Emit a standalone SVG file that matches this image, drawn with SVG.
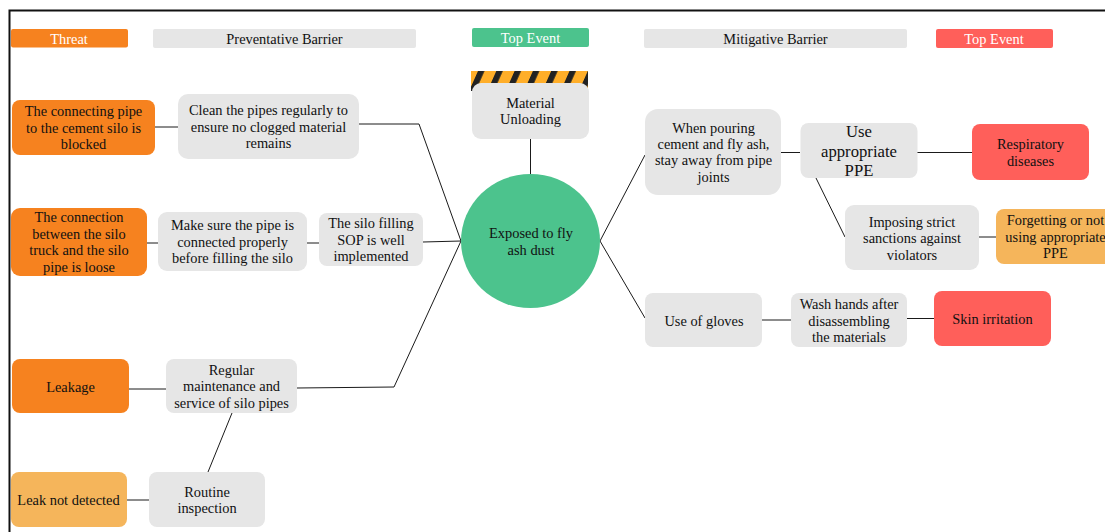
<svg xmlns="http://www.w3.org/2000/svg" width="1105" height="532" viewBox="0 0 1105 532">
<style>
text{font-family:"Liberation Serif","Times New Roman",serif;font-size:14.400px;text-anchor:middle;fill:#111}
.w{fill:#fff}
.big{font-size:16.700px}
.g{fill:#e6e6e6}.o{fill:#f6821f}.l{fill:#f5b55b}.e{fill:#4cc38d}.r{fill:#ff5f5a}
.c path{fill:none;stroke:#1a1a1a;stroke-width:1}
</style>
<defs>
<pattern id="hz" patternUnits="userSpaceOnUse" width="18.300" height="20" patternTransform="translate(478 71) skewX(-24)">
<rect width="18.300" height="20" fill="#ffae29"/><rect width="6.500" height="20" fill="#222"/>
</pattern>
</defs>
<rect width="1105" height="532" fill="#fff"/>
<path d="M9.500 533V10.500H1105" fill="none" stroke="#111" stroke-width="2"/>
<g class="c" id="connectors">
<path d="M155 127H178"/>
<path d="M359 124L419 124L461 241"/>
<path d="M147 243H158"/>
<path d="M307 243H319"/>
<path d="M423 242L461 241"/>
<path d="M297 388L394 387L461 241"/>
<path d="M129 389H166"/>
<path d="M232 413L208 472"/>
<path d="M127 500H149"/>
<path d="M530.500 139V174"/>
<path d="M600 241L645 155"/>
<path d="M600 241L645 318"/>
<path d="M781 152.500H800"/>
<path d="M917 152.500H972"/>
<path d="M815 176L845 237"/>
<path d="M977 237H996"/>
<path d="M762 320H791"/>
<path d="M907 318.500H934"/>
</g>
<g id="hdr-threat"><rect class="o" x="11" y="29" width="117" height="18.500" rx="2"/><text class="w" x="69" y="44">Threat</text></g>
<g id="hdr-prev"><rect class="g" x="153" y="29" width="263" height="19" rx="2"/><text x="284.500" y="44">Preventative Barrier</text></g>
<g id="hdr-top"><rect class="e" x="472" y="28" width="117" height="19" rx="2"/><text class="w" x="530.500" y="43">Top Event</text></g>
<g id="hdr-mit"><rect class="g" x="644" y="29" width="263" height="19" rx="2"/><text x="775.500" y="44">Mitigative Barrier</text></g>
<g id="hdr-cons"><rect class="r" x="936" y="29" width="117" height="19" rx="2"/><text class="w" x="994" y="44">Top Event</text></g>

<g id="threat1"><rect class="o" x="12" y="100" width="143" height="55" rx="8"/><text><tspan x="83.500" y="116">The connecting pipe</tspan><tspan x="83.500" y="133">to the cement silo is</tspan><tspan x="83.500" y="149">blocked</tspan></text></g>
<g id="barrier1"><rect class="g" x="178" y="94" width="181" height="65" rx="10"/><text><tspan x="268.500" y="115">Clean the pipes regularly to</tspan><tspan x="268.500" y="132">ensure no clogged material</tspan><tspan x="268.500" y="148">remains</tspan></text></g>
<g id="threat2"><rect class="o" x="11" y="208" width="136" height="68" rx="9"/><text><tspan x="79" y="222">The connection</tspan><tspan x="79" y="239">between the silo</tspan><tspan x="79" y="255">truck and the silo</tspan><tspan x="79" y="272">pipe is loose</tspan></text></g>
<g id="barrier2"><rect class="g" x="158" y="212" width="149" height="59" rx="9"/><text><tspan x="232.500" y="230">Make sure the pipe is</tspan><tspan x="232.500" y="247">connected properly</tspan><tspan x="232.500" y="263">before filling the silo</tspan></text></g>
<g id="barrier3"><rect class="g" x="319" y="213" width="104" height="53" rx="8"/><text><tspan x="371" y="228">The silo filling</tspan><tspan x="371" y="245">SOP is well</tspan><tspan x="371" y="261">implemented</tspan></text></g>
<g id="threat3"><rect class="o" x="12" y="359" width="117" height="54" rx="8"/><text x="70.500" y="392">Leakage</text></g>
<g id="barrier4"><rect class="g" x="166" y="359" width="131" height="54" rx="8"/><text><tspan x="231.500" y="375">Regular</tspan><tspan x="231.500" y="391">maintenance and</tspan><tspan x="231.500" y="408">service of silo pipes</tspan></text></g>
<g id="threat4"><rect class="l" x="11" y="472" width="116" height="55" rx="8"/><text x="68.500" y="505">Leak not detected</text></g>
<g id="barrier5"><rect class="g" x="149" y="472" width="116" height="55" rx="8"/><text><tspan x="207" y="497">Routine</tspan><tspan x="207" y="513">inspection</tspan></text></g>

<g id="hazard"><rect x="471" y="71" width="117" height="20" fill="url(#hz)"/></g>
<g id="hazard-node"><rect class="g" x="472" y="83" width="117" height="56" rx="9"/><text><tspan x="530.500" y="108">Material</tspan><tspan x="530.500" y="124">Unloading</tspan></text></g>
<g id="top-event"><ellipse class="e" cx="530.500" cy="241" rx="69.500" ry="67"/><text><tspan x="531" y="238">Exposed to fly</tspan><tspan x="531" y="255">ash dust</tspan></text></g>

<g id="mit1"><rect class="g" x="645" y="109" width="136" height="86" rx="13"/><text><tspan x="713.500" y="133">When pouring</tspan><tspan x="713.500" y="149">cement and fly ash,</tspan><tspan x="713.500" y="165">stay away from pipe</tspan><tspan x="713.500" y="182">joints</tspan></text></g>
<g id="mit2"><rect class="g" x="800.500" y="123" width="117" height="55" rx="8"/><text class="big"><tspan x="859" y="137">Use</tspan><tspan x="859" y="157">appropriate</tspan><tspan x="859" y="176">PPE</tspan></text></g>
<g id="cons1"><rect class="r" x="972" y="124" width="117" height="56" rx="8"/><text><tspan x="1030.500" y="149">Respiratory</tspan><tspan x="1030.500" y="166">diseases</tspan></text></g>
<g id="mit3"><rect class="g" x="845" y="205" width="134" height="65" rx="9"/><text><tspan x="912" y="227">Imposing strict</tspan><tspan x="912" y="243">sanctions against</tspan><tspan x="912" y="260">violators</tspan></text></g>
<g id="esc1"><rect class="l" x="996" y="209" width="120" height="55" rx="8"/><text><tspan x="1055.500" y="225">Forgetting or not</tspan><tspan x="1055.500" y="242">using appropriate</tspan><tspan x="1055.500" y="258">PPE</tspan></text></g>
<g id="mit4"><rect class="g" x="645" y="293" width="117" height="54" rx="8"/><text x="704" y="326">Use of gloves</text></g>
<g id="mit5"><rect class="g" x="791" y="293" width="116" height="54" rx="8"/><text><tspan x="849" y="309">Wash hands after</tspan><tspan x="849" y="326">disassembling</tspan><tspan x="849" y="342">the materials</tspan></text></g>
<g id="cons2"><rect class="r" x="934" y="291" width="117" height="55" rx="8"/><text x="992.500" y="324">Skin irritation</text></g>
</svg>
